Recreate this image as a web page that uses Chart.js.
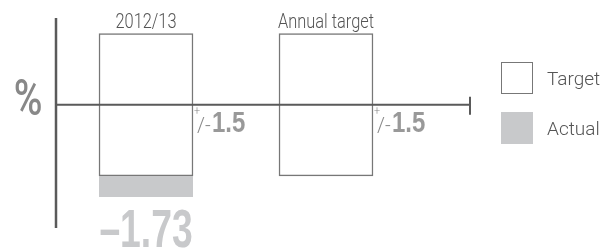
<!DOCTYPE html>
<html>
<head>
<meta charset="utf-8">
<script src="https://cdn.jsdelivr.net/npm/chart.js@4/dist/chart.umd.min.js"></script>
<style>
  body { margin: 0; background: #fff; }
  #wrap { position: relative; width: 609px; height: 248px; }
  #legend { position: absolute; left: 501px; top: 62px; font-family: Roboto, "Liberation Sans", sans-serif; font-weight: 300; font-size: 19px; color: #555; }
  .item { display: flex; align-items: center; height: 32px; margin-bottom: 18px; }
  .box { width: 32px; height: 32px; box-sizing: border-box; margin-right: 14px; }
</style>
</head>
<body>
<div id="wrap">
  <canvas id="chart"></canvas>
  <div id="legend"></div>
</div>
<script>
// data
const categories = ['2012/13', 'Annual target'];
const targetBand = [1.5, 1.5];     // +/- tolerance
const actualValues = [-1.73, null];
const unitLabel = '%';
const legendLabels = ['Target', 'Actual'];

const xPos = categories.map((c, i) => i + 0.5);
const actualColor = '#c8c9cb';

// grey block used as the "actual" marker
const marker = document.createElement('canvas');
marker.width = 94;
marker.height = 21;
const mctx = marker.getContext('2d');
mctx.fillStyle = actualColor;
mctx.fillRect(0, 0, marker.width, marker.height);

// condensed text: no narrow font installed, so squeeze horizontally
function squeezed(ctx, text, x, y, font, color, align, sx) {
  ctx.save();
  ctx.font = font;
  ctx.fillStyle = color;
  ctx.textAlign = align;
  ctx.textBaseline = 'alphabetic';
  ctx.translate(x, y);
  ctx.scale(sx, 1);
  ctx.fillText(text, 0, 0);
  ctx.restore();
}

const decorations = {
  id: 'decorations',
  afterDatasetsDraw(chart) {
    const { ctx, chartArea, scales } = chart;
    const y0 = scales.y.getPixelForValue(0);
    ctx.save();
    ctx.strokeStyle = '#5a5a5a';
    // vertical axis
    ctx.lineWidth = 2.5;
    ctx.beginPath();
    ctx.moveTo(chartArea.left, chartArea.top);
    ctx.lineTo(chartArea.left, chartArea.bottom);
    ctx.stroke();
    // zero line with end tick
    ctx.lineWidth = 2;
    ctx.beginPath();
    ctx.moveTo(chartArea.left, y0);
    ctx.lineTo(chartArea.right, y0);
    ctx.moveTo(chartArea.right, y0 - 8);
    ctx.lineTo(chartArea.right, y0 + 10);
    ctx.stroke();
    ctx.restore();

    // unit
    squeezed(ctx, unitLabel, 28, 115, '500 50px Roboto', '#888', 'center', 0.78);

    const bars = chart.getDatasetMeta(0).data;
    bars.forEach((bar, i) => {
      const top = scales.y.getPixelForValue(targetBand[i]);
      const right = bar.x + bar.width / 2;
      squeezed(ctx, categories[i], bar.x, top - 6, '300 20px Roboto', '#555', 'center', 0.82);
      squeezed(ctx, '+', right + 1, y0 + 10, '300 12px Roboto', '#888', 'left', 0.9);
      squeezed(ctx, '/-', right + 4, y0 + 27, '300 20px Roboto', '#888', 'left', 1);
      squeezed(ctx, targetBand[i].toFixed(1), right + 19, y0 + 27, 'bold 30px "Liberation Sans"', '#999', 'left', 0.8);
    });

    // actual value label
    actualValues.forEach((v, i) => {
      if (v === null) return;
      const x = scales.x.getPixelForValue(xPos[i]);
      const y = scales.y.getPixelForValue(v);
      const txt = (v < 0 ? '\u2013' : '') + Math.abs(v).toFixed(2);
      squeezed(ctx, txt, x, y + 60, 'bold 54px "Liberation Sans"', actualColor, 'center', 0.69);
    });
  }
};

new Chart(document.getElementById('chart'), {
  data: {
    datasets: [
      {
        type: 'bar',
        label: legendLabels[0],
        data: xPos.map((x, i) => ({ x: x, y: [-targetBand[i], targetBand[i]] })),
        backgroundColor: '#fff',
        borderColor: '#777',
        borderWidth: 1.5,
        borderSkipped: false,
        barThickness: 94,
        grouped: false,
        order: 2
      },
      {
        type: 'line',
        label: legendLabels[1],
        data: xPos.map((x, i) => ({ x: x, y: actualValues[i] })),
        showLine: false,
        pointStyle: marker,
        order: 1
      }
    ]
  },
  plugins: [decorations],
  options: {
    responsive: true,
    maintainAspectRatio: false,
    animation: false,
    layout: { padding: { left: 56, top: 18, right: 139, bottom: 20 } },
    plugins: { legend: { display: false }, tooltip: { enabled: false } },
    scales: {
      x: { type: 'linear', min: 0, max: 2.3, offset: false, display: false },
      y: { min: -2.6, max: 1.83, display: false }
    }
  }
});

// legend
const legendEl = document.getElementById('legend');
legendLabels.forEach((name, i) => {
  const item = document.createElement('div');
  item.className = 'item';
  const box = document.createElement('div');
  box.className = 'box';
  if (i === 0) box.style.border = '1.5px solid #777';
  else box.style.background = actualColor;
  item.appendChild(box);
  item.appendChild(document.createTextNode(name));
  legendEl.appendChild(item);
});
</script>
</body>
</html>
